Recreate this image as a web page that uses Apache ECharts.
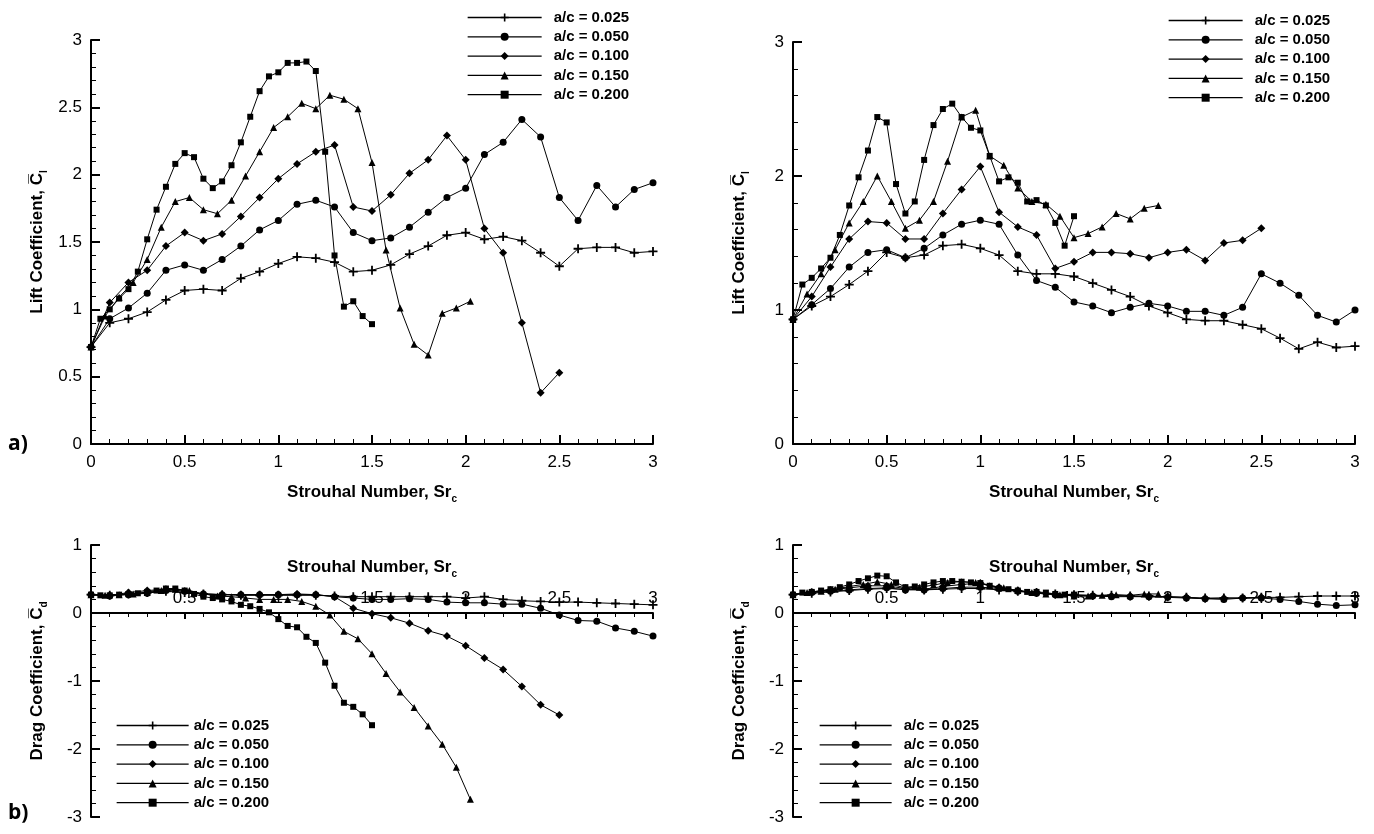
<!DOCTYPE html>
<html>
<head>
<meta charset="utf-8">
<script src="https://cdn.jsdelivr.net/npm/echarts@6/dist/echarts.min.js"></script>
<style>
  html, body { margin: 0; padding: 0; background: #fff; }
  #chart { width: 1374px; height: 834px; }
</style>
</head>
<body>
<div id="chart"></div>
<script>
// x positions (Strouhal number) for each a/c case
const xStep10 = [0,0.1,0.2,0.3,0.4,0.5,0.6,0.7,0.8,0.9,1,1.1,1.2,1.3,1.4,1.5,1.6,1.7,1.8,1.9,2,2.1,2.2,2.3,2.4,2.5,2.6,2.7,2.8,2.9,3];
const xStep075 = [0,0.075,0.15,0.225,0.3,0.375,0.45,0.525,0.6,0.675,0.75,0.825,0.9,0.975,1.05,1.125,1.2,1.275,1.35,1.425,1.5,1.575,1.65,1.725,1.8,1.875,1.95,2.025];
const xStep05 = [0,0.05,0.1,0.15,0.2,0.25,0.3,0.35,0.4,0.45,0.5,0.55,0.6,0.65,0.7,0.75,0.8,0.85,0.9,0.95,1,1.05,1.1,1.15,1.2,1.25,1.3,1.35,1.4,1.45,1.5];

const names = ['a/c = 0.025', 'a/c = 0.050', 'a/c = 0.100', 'a/c = 0.150', 'a/c = 0.200'];

// a) left: lift coefficient
const liftA025 = [0.72,0.90,0.93,0.98,1.07,1.14,1.15,1.14,1.23,1.28,1.34,1.39,1.38,1.35,1.28,1.29,1.33,1.41,1.47,1.55,1.57,1.52,1.54,1.51,1.42,1.32,1.45,1.46,1.46,1.42,1.43];
const liftA050 = [0.72,0.93,1.01,1.12,1.29,1.33,1.29,1.37,1.47,1.59,1.66,1.78,1.81,1.76,1.57,1.51,1.53,1.61,1.72,1.83,1.90,2.15,2.24,2.41,2.28,1.83,1.66,1.92,1.76,1.89,1.94];
const liftA100 = [0.72,1.05,1.20,1.29,1.47,1.57,1.51,1.56,1.69,1.83,1.97,2.08,2.17,2.22,1.76,1.73,1.85,2.01,2.11,2.29,2.11,1.60,1.42,0.90,0.38,0.53];
const liftA150 = [0.72,0.95,1.09,1.20,1.37,1.61,1.80,1.83,1.74,1.71,1.81,1.99,2.17,2.35,2.43,2.53,2.49,2.59,2.56,2.49,2.09,1.44,1.01,0.74,0.66,0.97,1.01,1.06];
const liftA200 = [0.72,0.93,1.00,1.08,1.15,1.28,1.52,1.74,1.91,2.08,2.16,2.13,1.97,1.90,1.95,2.07,2.24,2.43,2.62,2.73,2.76,2.83,2.83,2.84,2.77,2.17,1.40,1.02,1.06,0.95,0.89];

// a) right: lift coefficient
const liftB025 = [0.93,1.03,1.10,1.19,1.29,1.43,1.39,1.41,1.48,1.49,1.46,1.41,1.29,1.27,1.27,1.25,1.20,1.15,1.10,1.03,0.98,0.93,0.92,0.92,0.89,0.86,0.79,0.71,0.76,0.72,0.73];
const liftB050 = [0.93,1.04,1.16,1.32,1.43,1.45,1.39,1.46,1.56,1.64,1.67,1.64,1.41,1.22,1.17,1.06,1.03,0.98,1.02,1.05,1.03,0.99,0.99,0.96,1.02,1.27,1.20,1.11,0.96,0.91,1.00];
const liftB100 = [0.93,1.10,1.32,1.53,1.66,1.65,1.53,1.53,1.72,1.90,2.07,1.73,1.62,1.56,1.31,1.36,1.43,1.43,1.42,1.39,1.43,1.45,1.37,1.50,1.52,1.61];
const liftB150 = [0.93,1.12,1.27,1.45,1.65,1.81,2.00,1.81,1.61,1.67,1.81,2.11,2.44,2.49,2.15,2.08,1.91,1.81,1.79,1.70,1.54,1.57,1.62,1.72,1.68,1.76,1.78];
const liftB200 = [0.93,1.19,1.24,1.31,1.39,1.56,1.78,1.99,2.19,2.44,2.40,1.94,1.72,1.81,2.12,2.38,2.50,2.54,2.44,2.36,2.34,2.15,1.96,1.99,1.95,1.81,1.82,1.78,1.65,1.48,1.70];

// b) left: drag coefficient
const dragA025 = [0.27,0.26,0.28,0.30,0.32,0.30,0.28,0.27,0.26,0.26,0.26,0.26,0.26,0.25,0.24,0.24,0.24,0.24,0.24,0.24,0.22,0.24,0.20,0.18,0.17,0.16,0.16,0.15,0.14,0.13,0.12];
const dragA050 = [0.27,0.25,0.27,0.29,0.33,0.32,0.28,0.27,0.27,0.27,0.27,0.27,0.27,0.24,0.22,0.20,0.20,0.21,0.20,0.16,0.15,0.15,0.13,0.13,0.07,-0.03,-0.11,-0.12,-0.22,-0.27,-0.34];
const dragA100 = [0.27,0.26,0.30,0.33,0.35,0.32,0.28,0.27,0.27,0.27,0.27,0.28,0.27,0.24,0.07,-0.01,-0.07,-0.15,-0.26,-0.34,-0.48,-0.66,-0.83,-1.08,-1.35,-1.50];
const dragA150 = [0.27,0.26,0.27,0.28,0.30,0.33,0.35,0.33,0.28,0.25,0.24,0.22,0.20,0.20,0.20,0.17,0.10,-0.03,-0.27,-0.38,-0.60,-0.89,-1.16,-1.39,-1.66,-1.93,-2.27,-2.74];
const dragA200 = [0.27,0.26,0.26,0.27,0.28,0.29,0.31,0.33,0.36,0.36,0.33,0.28,0.24,0.22,0.20,0.17,0.12,0.10,0.06,0.01,-0.09,-0.19,-0.21,-0.35,-0.44,-0.73,-1.07,-1.32,-1.38,-1.49,-1.65];

// b) right: drag coefficient
const dragB025 = [0.27,0.29,0.31,0.33,0.35,0.36,0.35,0.34,0.35,0.36,0.36,0.34,0.32,0.30,0.28,0.27,0.26,0.26,0.25,0.25,0.24,0.23,0.22,0.22,0.22,0.23,0.23,0.24,0.25,0.25,0.25];
const dragB050 = [0.27,0.30,0.32,0.34,0.36,0.37,0.34,0.34,0.36,0.38,0.38,0.36,0.32,0.29,0.27,0.26,0.25,0.24,0.24,0.24,0.23,0.22,0.21,0.20,0.22,0.22,0.20,0.17,0.13,0.11,0.12];
const dragB100 = [0.27,0.31,0.34,0.37,0.40,0.40,0.36,0.35,0.39,0.42,0.44,0.38,0.33,0.30,0.27,0.26,0.25,0.25,0.25,0.24,0.24,0.23,0.21,0.22,0.22,0.23];
const dragB150 = [0.27,0.30,0.32,0.35,0.39,0.42,0.46,0.42,0.37,0.38,0.41,0.45,0.46,0.45,0.40,0.37,0.33,0.30,0.28,0.27,0.25,0.25,0.26,0.27,0.26,0.28,0.28];
const dragB200 = [0.27,0.30,0.31,0.33,0.35,0.38,0.42,0.47,0.51,0.55,0.54,0.45,0.38,0.39,0.42,0.45,0.47,0.47,0.46,0.45,0.44,0.40,0.36,0.35,0.33,0.31,0.31,0.30,0.28,0.27,0.27];

const FONT = '"Liberation Sans", Arial, sans-serif';
const plus = 'path://M-1,-5H1V-1H5V1H1V5H-1V1H-5V-1H-1Z';
const marks = [
  { symbol: plus, size: 9 },
  { symbol: 'circle', size: 7 },
  { symbol: 'diamond', size: 8 },
  { symbol: 'triangle', size: 7 },
  { symbol: 'rect', size: 6 }
];
const xsFor = [xStep10, xStep10, xStep10, xStep075, xStep05];

const panels = [
  [liftA025, liftA050, liftA100, liftA150, liftA200],
  [liftB025, liftB050, liftB100, liftB150, liftB200],
  [dragA025, dragA050, dragA100, dragA150, dragA200],
  [dragB025, dragB050, dragB100, dragB150, dragB200]
];

const series = [];
panels.forEach((sets, p) => {
  sets.forEach((ys, i) => {
    series.push({
      name: names[i],
      type: 'line',
      xAxisIndex: p,
      yAxisIndex: p,
      data: ys.map((y, k) => [xsFor[i][k], y]),
      symbol: marks[i].symbol,
      symbolSize: marks[i].size,
      showAllSymbol: true,
      lineStyle: { color: '#000', width: 1 },
      itemStyle: { color: '#000' },
      emphasis: { disabled: true },
      animation: false
    });
  });
});

const grids = [
  { left: 91, top: 40, width: 562, height: 404 },
  { left: 793, top: 42, width: 562, height: 402 },
  { left: 91, top: 545, width: 562, height: 272 },
  { left: 793, top: 545, width: 562, height: 272 }
].map(g => Object.assign(g, { containLabel: false, outerBoundsMode: 'none' }));

const richName = {
  sub: { fontSize: 10, fontWeight: 'bold', fontFamily: FONT, lineHeight: 10, verticalAlign: 'bottom' }
};

// drag panels: x axis drawn on the zero line (3/4 of the grid height above its bottom)
const dragZeroShift = -204;

function xAxis(i, bottom) {
  return {
    type: 'value', gridIndex: i, min: 0, max: 3, interval: 0.5,
    z: bottom ? 5 : 0,
    name: bottom ? '' : 'Strouhal Number, Sr{sub|c}',
    nameLocation: 'middle', nameGap: 36,
    nameTextStyle: { fontFamily: FONT, fontWeight: 'bold', fontSize: 17, color: '#000', lineHeight: 24, rich: richName },
    offset: bottom ? dragZeroShift : 0,
    axisLine: { onZero: false, lineStyle: { color: '#000', width: 2 } },
    axisTick: { inside: !bottom, length: bottom ? 6 : 9, lineStyle: { color: '#000', width: 2 } },
    minorTick: { show: true, splitNumber: 5, length: bottom ? 4 : 5, lineStyle: { color: '#000', width: 1 } },
    splitLine: { show: false },
    axisLabel: {
      inside: bottom, margin: bottom ? 6 : 10, fontFamily: FONT, fontSize: 17, color: '#000',
      showMinLabel: !bottom, hideOverlap: false
    }
  };
}

function yAxis(i, lift, left) {
  return {
    type: 'value', gridIndex: i,
    min: lift ? 0 : -3, max: lift ? 3 : 1, interval: (lift && left) ? 0.5 : 1,
    name: lift ? 'Lift Coefficient, C\u0305{sub|l}' : 'Drag Coefficient, C\u0305{sub|d}',
    nameLocation: 'middle', nameGap: 42, nameRotate: 90,
    nameTextStyle: { fontFamily: FONT, fontWeight: 'bold', fontSize: 17, color: '#000', lineHeight: 24, rich: richName },
    axisLine: { show: true, onZero: false, lineStyle: { color: '#000', width: 2 } },
    axisTick: { inside: true, length: 9, lineStyle: { color: '#000', width: 2 } },
    minorTick: { show: true, splitNumber: 5, length: 5, lineStyle: { color: '#000', width: 1 } },
    splitLine: { show: false },
    axisLabel: { margin: 9, fontFamily: FONT, fontSize: 17, color: '#000', hideOverlap: false }
  };
}

function legend(left, top, lineLen, textGap) {
  return {
    orient: 'vertical', left: left, top: top,
    data: names, selectedMode: false,
    itemWidth: lineLen, itemHeight: 10, itemGap: 4.3,
    lineStyle: { color: '#000', width: 1.3 },
    textStyle: { fontFamily: FONT, fontWeight: 'bold', fontSize: 15, color: '#000', padding: [0, 0, 0, textGap] }
  };
}

const subTitle = {
  fontFamily: FONT, fontWeight: 'bold', fontSize: 17, fill: '#000', lineHeight: 24,
  rich: { sub: richName.sub }
};

const option = {
  backgroundColor: '#fff',
  animation: false,
  grid: grids,
  xAxis: [xAxis(0, false), xAxis(1, false), xAxis(2, true), xAxis(3, true)],
  yAxis: [yAxis(0, true, true), yAxis(1, true, false), yAxis(2, false, true), yAxis(3, false, false)],
  legend: [legend(462, 5, 74, 7), legend(1163, 8, 74, 7), legend(111, 713, 72, 0), legend(814, 713, 72, 7)],
  graphic: [
    { type: 'text', left: 8, top: 434, style: { text: 'a)', fontFamily: '"Open Sans", sans-serif', fontWeight: 'bold', fontSize: 21, fill: '#000' } },
    { type: 'text', left: 8, top: 803, style: { text: 'b)', fontFamily: '"Open Sans", sans-serif', fontWeight: 'bold', fontSize: 21, fill: '#000' } },
    { type: 'text', x: 372, y: 567, style: Object.assign({ text: 'Strouhal Number, Sr{sub|c}', align: 'center', verticalAlign: 'middle' }, subTitle) },
    { type: 'text', x: 1074, y: 567, style: Object.assign({ text: 'Strouhal Number, Sr{sub|c}', align: 'center', verticalAlign: 'middle' }, subTitle) }
  ],
  series: series
};

const chart = echarts.init(document.getElementById('chart'), null, { renderer: 'canvas' });
chart.setOption(option);
</script>
</body>
</html>
